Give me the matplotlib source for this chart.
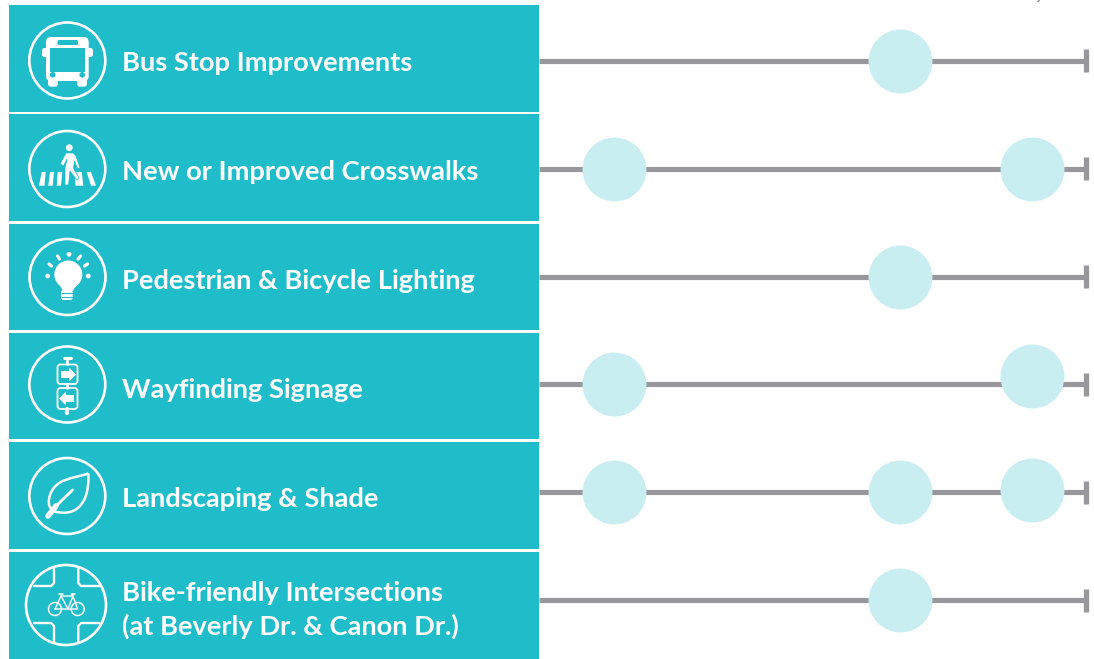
import matplotlib
matplotlib.use('Agg')
import matplotlib.pyplot as plt
from matplotlib.patches import Circle, FancyBboxPatch, Polygon, PathPatch, Rectangle
from matplotlib.path import Path

# datos de la tabla
labels = ['Bus Stop Improvements', 'New or Improved Crosswalks', 'Pedestrian & Bicycle Lighting',
          'Wayfinding Signage', 'Landscaping & Shade', 'Bike-friendly Intersections\n(at Beverly Dr. & Canon Dr.)']
row_top = [5, 114, 224, 333, 442, 552]
row_bottom = [111.5, 221, 330, 439, 549, 659]
dot_row = [0, 1, 1, 2, 3, 3, 4, 4, 4, 5]
dot_x = [66, 13.7, 90.1, 66, 13.7, 90.1, 13.7, 66, 90.1, 66]
dot_shift = [0, 0, 0, 0, 0, -0.075, 0, 0, -0.02, 0]
line_rows = [0, 1, 2, 3, 4, 5]

TEAL = '#1fbcc9'
GRAY = '#97979c'
DOT = '#c9eef1'
W = 'white'

fig = plt.figure(figsize=(10.94, 6.59), dpi=100)

# panel izquierdo en pixeles
ax = fig.add_axes([0, 0, 1, 1])
ax.set_xlim(0, 1094)
ax.set_ylim(659, 0)
ax.axis('off')

ax.barh([(a + b) / 2 for a, b in zip(row_top, row_bottom)],
        [530] * 6, left=9,
        height=[b - a for a, b in zip(row_top, row_bottom)], color=TEAL)

text_y = [63, 172, 281, 390, 499, 610]
for lab, y in zip(labels, text_y):
    ax.text(121.5, y, lab, color=W, fontsize=19.6, family='Lato', fontweight='bold',
            va='center', ha='left', linespacing=1.45)


def ring(cx, cy, r=38, lw=1.9):
    ax.add_patch(Circle((cx, cy), r, fill=False, ec=W, lw=lw))


def rbox(x0, y0, x1, y1, rad, fc=W, ec='none', lw=0):
    ax.add_patch(FancyBboxPatch((x0 + rad, y0 + rad), x1 - x0 - 2 * rad, y1 - y0 - 2 * rad,
                                boxstyle='round,pad=%f,rounding_size=%f' % (rad, rad),
                                fc=fc, ec=ec, lw=lw))


def seg(pts, lw=1.5, color=W, cap='round'):
    ax.plot([p[0] for p in pts], [p[1] for p in pts], color=color, lw=lw,
            solid_capstyle=cap, solid_joinstyle='round')


# autobus
ring(67.3, 60.5)
rbox(42, 48, 93, 57, 2.5)
rbox(46, 37, 88.7, 81, 5)
rbox(48, 78, 58, 86.7, 3)
rbox(77, 78, 87, 86.7, 3)
ax.add_patch(Rectangle((50.3, 48), 34.4, 24, fc=TEAL))
rbox(57.5, 40, 78, 45, 1.5, fc=TEAL)
ax.add_patch(Circle((52.7, 74.8), 2.8, fc=TEAL))
ax.add_patch(Circle((82.2, 74.8), 2.8, fc=TEAL))

# peaton y paso de cebra
ring(67.3, 169)
stripes = [(39, 44.5, 41.7, 45.7), (48.3, 52.7, 50, 54), (56.7, 61, 57.7, 62.3),
           (75.5, 80, 74.5, 79), (79, 83.3, 77.3, 81.7), (91, 96, 86.7, 91)]
for b0, b1, t0, t1 in stripes:
    ax.add_patch(Polygon([(b0, 185.7), (b1, 185.7), (t1, 172), (t0, 172)], fc=W))
ax.add_patch(Circle((69.3, 147.7), 3.4, fc=W))
ax.add_patch(Polygon([(66, 153), (73, 153), (76, 156), (80, 168), (77.5, 168.5), (74.5, 161),
                     (73.5, 168), (79, 178), (77, 180), (70, 171), (68.5, 185), (65, 185),
                     (65, 168), (67, 159), (63.5, 166), (60, 164)], fc=W, ec=TEAL, lw=0.5))

# bombilla
ring(67.5, 277)
ax.add_patch(Circle((68.3, 274.5), 14, fc=W))
ax.add_patch(Polygon([(58, 282), (78, 282), (73, 291), (63, 291)], fc=W))
rbox(61, 290, 72.7, 300, 2.5)
seg([(62, 293), (72, 293)], lw=0.8, color=TEAL)
seg([(62, 296.5), (72, 296.5)], lw=0.8, color=TEAL)
for c in [(69, 254.3), (47.7, 276), (88.3, 276)]:
    ax.add_patch(Circle(c, 2.4, fc=W))
seg([(57.5, 256), (59.5, 259)], lw=2.3)
seg([(80.5, 256), (78, 259)], lw=2.3)
seg([(49, 264), (51.5, 266)], lw=2.3)
seg([(87.5, 264), (84.5, 266)], lw=2.3)

# senales
ring(67.3, 384.5)
seg([(67, 358), (67, 364)], lw=2)
seg([(63.5, 357.5), (70.5, 357.5)], lw=2.2)
seg([(67, 384), (67, 388)], lw=2)
seg([(67, 409), (67, 412.5)], lw=3)
rbox(57.5, 364.5, 77.5, 384, 3, fc='none', ec=W, lw=1.3)
rbox(57.5, 388, 77.5, 409, 3, fc='none', ec=W, lw=1.3)
ax.add_patch(Polygon([(61, 371), (69, 371), (69, 367.5), (76, 374.5), (69, 381.5), (69, 378), (61, 378)], fc=W))
ax.add_patch(Polygon([(74, 395), (66, 395), (66, 391.5), (59, 398.5), (66, 405.5), (66, 402), (74, 402)], fc=W))

# hoja
ring(67.3, 496)
leaf = Path([(88.3, 473.5), (72, 479), (56, 478), (50, 495),
             (47, 505), (50, 509), (55, 511.5),
             (70, 516), (90, 510), (88.3, 473.5)],
            [1, 4, 4, 4, 4, 4, 4, 4, 4, 4])
ax.add_patch(PathPatch(leaf, fc='none', ec=W, lw=1.8))
seg([(72.5, 490), (56, 506)], lw=2)
seg([(56, 506), (48, 516)], lw=4)

# cruce con bici
ring(66, 605, r=40)
for corner in [[(34, 586), (51, 586), (54, 583), (54, 569)],
               [(78.3, 569), (78.3, 583), (81, 586), (99.3, 586)],
               [(34, 623), (51, 623), (54, 626), (54, 642)],
               [(78.3, 642), (78.3, 626), (81, 623), (99.3, 623)]]:
    seg(corner, lw=1.7)
ax.add_patch(Circle((55, 609), 6.5, fill=False, ec=W, lw=1.1))
ax.add_patch(Circle((77.7, 609), 6.5, fill=False, ec=W, lw=1.1))
seg([(55, 609), (61, 596), (73, 596), (77.7, 609), (68, 609), (55, 609)], lw=1)
seg([(61, 596), (68, 609), (73, 596)], lw=1)
seg([(59, 594), (63, 594)], lw=1.1)
seg([(73, 596), (71.5, 594), (75, 594)], lw=1.1)

# trozo de texto cortado arriba, como en el original
ax.text(1040, -2, 'y', color=GRAY, fontsize=17, family='Lato', ha='center', va='baseline')

# lineas de tiempo
ax2 = fig.add_axes([539 / 1094, 0, 547 / 1094, 1])
ax2.set_xlim(0, 100)
ax2.set_ylim((659 - 60.5) / 108, -60.5 / 108)
ax2.axis('off')
ax2.patch.set_alpha(0)

ax2.hlines(line_rows, 0, 100, color=GRAY, lw=3.7, zorder=1)
ax2.vlines([100] * 6, [r - 0.11 for r in line_rows], [r + 0.11 for r in line_rows],
           color=GRAY, lw=3.8, zorder=1, clip_on=False)
ax2.scatter(dot_x, [r + s for r, s in zip(dot_row, dot_shift)], s=46 ** 2, color=DOT,
            linewidths=0, zorder=2, clip_on=False)

fig.savefig('out.png', dpi=100)
